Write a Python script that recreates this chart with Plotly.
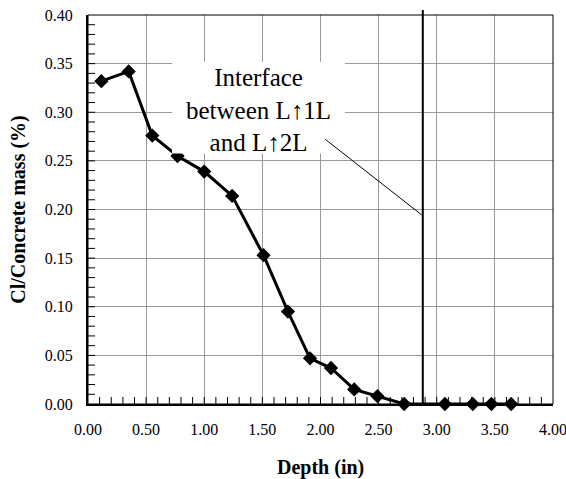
import plotly.graph_objects as go

# Chloride profile: depth (in) vs Cl / concrete mass (%)
depth = [0.115, 0.35, 0.553, 0.77, 1.0, 1.24, 1.51, 1.72, 1.91, 2.09, 2.29, 2.49,
         2.72, 3.07, 3.31, 3.47, 3.64]
chloride = [0.332, 0.342, 0.276, 0.255, 0.239, 0.214, 0.153, 0.095, 0.047, 0.037,
            0.015, 0.008, 0.0, 0.0, 0.0, 0.0, 0.0]

interface_depth = 2.88
x_range = [0, 4.0]
y_range = [0, 0.40]
x_major, x_minor = 0.5, 0.1
y_major, y_minor = 0.05, 0.01

FONT = "'Liberation Serif', 'Times New Roman', serif"

x_full = [x_range[0], x_range[1] + 1e-4]
y_full = [y_range[0], y_range[1] + 1e-5]

# minor tick positions along each axis
n_x = int(round((x_range[1] - x_range[0]) / x_minor))
x_minor_vals = [x_range[0] + i * x_minor for i in range(1, n_x)]
n_y = int(round((y_range[1] - y_range[0]) / y_minor))
y_minor_vals = [y_range[0] + i * y_minor for i in range(1, n_y)]

fig = go.Figure()
# short tick marks: symbols centred on the axis line, the outer half clipped away
fig.add_trace(go.Scatter(
    x=x_minor_vals, y=[y_range[0]] * len(x_minor_vals), mode="markers",
    marker=dict(symbol="line-ns", size=10, line=dict(color="black", width=1)),
    cliponaxis=True, showlegend=False, hoverinfo="skip",
))
fig.add_trace(go.Scatter(
    x=[x_range[0]] * len(y_minor_vals), y=y_minor_vals, mode="markers",
    marker=dict(symbol="line-ew", size=10, line=dict(color="black", width=1)),
    cliponaxis=True, showlegend=False, hoverinfo="skip",
))
fig.add_trace(go.Scatter(
    x=depth, y=chloride, mode="lines+markers",
    line=dict(color="black", width=3),
    marker=dict(symbol="diamond", size=11, color="black"),
    cliponaxis=False, showlegend=False,
))

# white label box (sits over the curve and the grid)
fig.add_shape(type="rect", xref="x", yref="y",
              x0=0.722, x1=2.211, y0=0.2575, y1=0.352,
              fillcolor="white", line=dict(width=0), layer="above")
# interface marker line
fig.add_shape(type="line", xref="x", yref="paper",
              x0=interface_depth, x1=interface_depth, y0=0, y1=1.013,
              line=dict(color="black", width=2), layer="above")
# leader line from the label to the interface
fig.add_shape(type="line", xref="x", yref="y",
              x0=2.04, y0=0.2723, x1=interface_depth - 0.01, y1=0.1945,
              line=dict(color="black", width=1), layer="above")
# frame on top/right
fig.add_shape(type="rect", xref="paper", yref="paper", x0=0, y0=0, x1=1, y1=1,
              line=dict(color="black", width=1), fillcolor="rgba(0,0,0,0)",
              layer="above")

fig.add_annotation(
    x=1.465, y=0.3025, xref="x", yref="y",
    text="Interface<br>between L↑1L<br>and L↑2L",
    showarrow=False,
    font=dict(family=FONT, size=25, color="black"), align="center",
)
# x-axis title
fig.add_annotation(
    x=0.5, y=0, xref="paper", yref="paper", yshift=-63,
    xanchor="center", yanchor="middle", showarrow=False,
    text="<b>Depth (in)</b>", font=dict(family=FONT, size=20, color="black"),
)

fig.update_layout(
    width=566, height=479,
    margin=dict(l=88, r=13, t=15, b=75),
    paper_bgcolor="white", plot_bgcolor="white",
    xaxis=dict(
        range=x_full, tickmode="linear", tick0=0, dtick=x_major,
        showline=True, linecolor="black", linewidth=2, zeroline=False,
        showgrid=True, gridcolor="#999999", gridwidth=1,
        ticks="outside", ticklen=10, tickcolor="rgba(0,0,0,0)",
        tickfont=dict(family=FONT, size=16, color="black"), tickformat=".2f",
        ticklabeloverflow="allow", automargin=False,
    ),
    yaxis=dict(
        range=y_full, tickmode="linear", tick0=0, dtick=y_major,
        showline=True, linecolor="black", linewidth=2, zeroline=False,
        showgrid=True, gridcolor="#999999", gridwidth=1,
        ticks="outside", ticklen=10, tickcolor="rgba(0,0,0,0)",
        tickfont=dict(family=FONT, size=16, color="black"), tickformat=".2f",
        automargin=False,
        title=dict(text="<b>Cl/Concrete mass (%)</b>",
                   font=dict(family=FONT, size=20, color="black"), standoff=14),
    ),
)

fig.write_html("out.html")
